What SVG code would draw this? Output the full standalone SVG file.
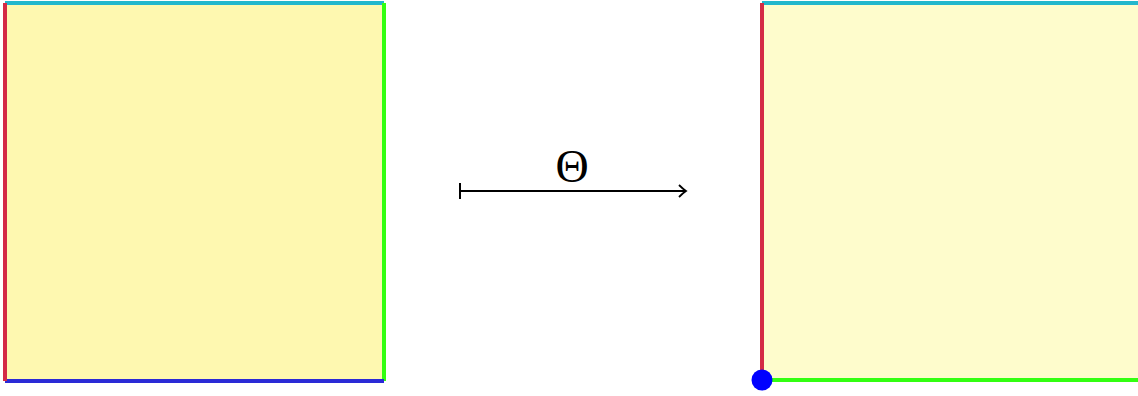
<svg xmlns="http://www.w3.org/2000/svg" width="1138" height="396" viewBox="0 0 1138 396">
<style>
.e{stroke-width:4;fill:none}
.r{stroke:#d42a45}.c{stroke:#22b7cc}.g{stroke:#33ff11}.b{stroke:#2a2ad6}
</style>
<defs>
<marker id="ah" markerWidth="12" markerHeight="16" refX="10" refY="8" orient="auto" markerUnits="userSpaceOnUse">
<path d="M3,2 Q7,6 10,8 Q7,10 3,14" fill="none" stroke="#000" stroke-width="1.8"/>
</marker>
</defs>
<g id="left">
<rect x="5" y="3" width="379" height="378" fill="#fef8b0"/>
<line class="e c" x1="5" y1="3" x2="384" y2="3"/>
<line class="e g" x1="384" y1="3" x2="384" y2="381"/>
<line class="e b" x1="5" y1="381" x2="384" y2="381"/>
<line class="e r" x1="5" y1="3" x2="5" y2="381"/>
</g>
<g id="connectors">
<line x1="460" y1="191" x2="686" y2="191" stroke="#000" stroke-width="2" marker-end="url(#ah)"/>
<line x1="460" y1="183" x2="460" y2="199" stroke="#000" stroke-width="2"/>
<text x="572" y="182" font-family="Liberation Serif, serif" font-size="46" text-anchor="middle">Θ</text>
</g>
<g id="right">
<rect x="762" y="3" width="380" height="378" fill="#fefccc"/>
<line class="e c" x1="762" y1="3" x2="1140" y2="3"/>
<line class="e g" x1="762" y1="380" x2="1140" y2="380"/>
<line class="e r" x1="762" y1="3" x2="762" y2="380"/>
<circle cx="762" cy="380" r="10.5" fill="#0000ff"/>
</g>
</svg>
